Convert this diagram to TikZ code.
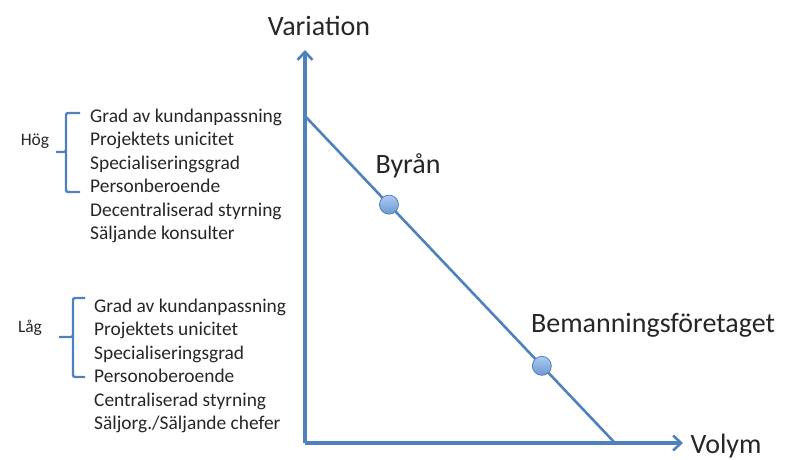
\documentclass[tikz,border=0pt]{standalone}
\usepackage{fontspec}
\setmainfont{Carlito}
\definecolor{axblue}{HTML}{4F81BD}
\definecolor{dotblue}{HTML}{78A8E8}
\definecolor{txtgray}{HTML}{262626}
\usepackage{tikz}
\usetikzlibrary{arrows.meta,positioning}
\usepackage{xcolor}

\begin{document}
\begin{tikzpicture}[x=1pt,y=-1pt,
    axis/.style={draw=axblue, line width=3.2pt, -{Straight Barb[length=8pt,width=15pt,line width=2.6pt]}},
    trend/.style={draw=axblue, line width=2.6pt},
    brace/.style={draw=axblue, line width=2.4pt, rounded corners=2pt},
    dot/.style={circle, draw=axblue, line width=0.8pt, minimum size=19pt, inner sep=0pt,
                top color=dotblue!60!white, bottom color=dotblue!90!black},
    biglabel/.style={text=txtgray, font=\fontsize{28}{32}\selectfont, inner sep=0pt},
    smalllabel/.style={text=txtgray, font=\fontsize{17.5}{21}\selectfont, inner sep=0pt},
    itemlist/.style={text=txtgray, font=\fontsize{19.4}{23.5}\selectfont, inner sep=0pt,
                     align=left, anchor=north west}]
\useasboundingbox (0,0) rectangle (789,459);

% axes
\coordinate (origin) at (305,443);
\coordinate (ytip) at (305,50);
\coordinate (xtip) at (683,443);
\draw[axis] (origin) -- (ytip);
\draw[axis] (origin) -- (xtip);
\node[biglabel] (variation) at (319,26) {Variation};
\node[biglabel] (volym) at (726,446) {Volym};

% trend line with the two firms
\coordinate (dstart) at (305,116);
\coordinate (dend) at (615,443);
\draw[trend] (dstart) -- (dend)
  node[dot, pos=0.271] (byran) {}
  node[dot, pos=0.764] (beman) {};
\node[biglabel] (byranlbl) at (408,166) {Byrån};
\node[biglabel] (bemanlbl) at (653,325) {Bemanningsföretaget};

% high variation
\node[smalllabel] (hog) at (35,141) {Hög};
\draw[brace] (80,113) -| (66,152) -- (56,152);
\draw[brace] (66,150) |- (80,192);
\node[itemlist] (hoglist) at (90,108.5)
  {Grad av kundanpassning\\ Projektets unicitet\\ Specialiseringsgrad\\
   Personberoende\\ Decentraliserad styrning\\ Säljande konsulter};

% low variation
\node[smalllabel] (lag) at (30,328) {Låg};
\draw[brace] (85,298) -| (73,337) -- (59,337);
\draw[brace] (73,335) |- (85,377);
\node[itemlist] (laglist) at (94,298.5)
  {Grad av kundanpassning\\ Projektets unicitet\\ Specialiseringsgrad\\
   Personoberoende\\ Centraliserad styrning\\ Säljorg./Säljande chefer};
\end{tikzpicture}
\end{document}
